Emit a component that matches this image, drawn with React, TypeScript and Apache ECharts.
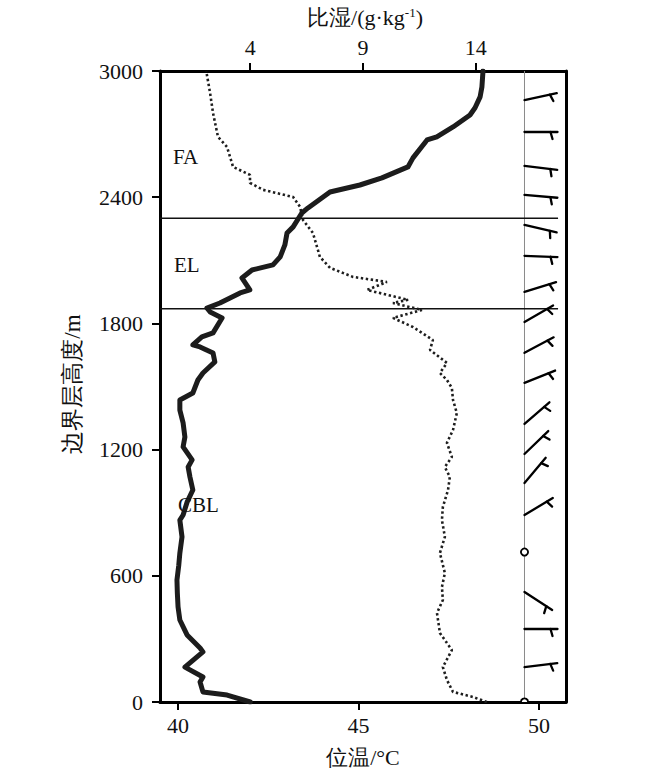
import React, { useEffect, useRef } from 'react';
import * as echarts from 'echarts';

// Potential temperature profile (°C) vs height (m)
const thetaHeights = [0, 33, 48, 95, 119, 166, 238, 257, 319, 390, 452, 520, 580, 650, 708, 785, 865, 889, 950, 1008, 1070, 1117, 1151, 1213, 1260, 1327, 1388, 1436, 1469, 1531, 1564, 1617, 1659, 1688, 1698, 1736, 1755, 1826, 1854, 1873, 1897, 1945, 1959, 2016, 2054, 2078, 2116, 2173, 2230, 2259, 2325, 2349, 2401, 2425, 2458, 2492, 2544, 2587, 2672, 2687, 2734, 2791, 2825, 2877, 2924, 3000];
const thetaValues = [42.0, 41.36, 40.69, 40.61, 40.69, 40.19, 40.69, 40.61, 40.25, 40.05, 40.0, 39.98, 39.97, 40.02, 40.05, 40.11, 40.05, 40.14, 40.25, 40.41, 40.33, 40.28, 40.39, 40.14, 40.19, 40.14, 40.05, 40.05, 40.41, 40.55, 40.69, 41.02, 40.97, 40.61, 40.41, 40.66, 40.97, 41.22, 40.89, 40.8, 41.16, 41.72, 41.99, 41.77, 42.05, 42.63, 42.83, 42.96, 43.02, 43.19, 43.43, 43.6, 44.02, 44.21, 45.04, 45.65, 46.37, 46.51, 46.9, 47.17, 47.62, 48.09, 48.23, 48.37, 48.42, 48.45];

// Specific humidity profile (g/kg) vs height (m)
const qHeights = [0, 24, 48, 105, 166, 247, 328, 423, 485, 547, 613, 708, 785, 865, 927, 1008, 1070, 1117, 1165, 1232, 1293, 1374, 1436, 1493, 1531, 1564, 1612, 1674, 1721, 1783, 1826, 1864, 1897, 1912, 1959, 1997, 2021, 2064, 2116, 2230, 2292, 2354, 2401, 2435, 2468, 2506, 2544, 2639, 2687, 2801, 2896, 3000];
const qValues = [14.49, 13.87, 12.99, 12.72, 12.54, 12.94, 12.41, 12.28, 12.54, 12.5, 12.63, 12.41, 12.63, 12.5, 12.54, 12.77, 12.85, 12.63, 12.94, 12.72, 12.99, 13.16, 12.99, 12.94, 12.72, 12.41, 12.72, 11.97, 12.1, 11.21, 10.33, 11.61, 10.33, 11.0, 9.18, 10.06, 8.56, 7.54, 7.09, 6.78, 6.34, 6.21, 5.9, 4.57, 3.99, 3.99, 3.24, 2.97, 2.57, 2.35, 2.22, 2.05];

// Layer boundaries (m) and layer names
const boundaryHeights = [1870, 2300];
const layerNames = ['FA', 'EL', 'CBL'];

// Wind profile: height (m), direction (deg, from), speed (m/s; 0 = calm)
const windHeights = [0, 166, 347, 523, 713, 889, 1041, 1179, 1322, 1517, 1660, 1807, 1950, 2121, 2268, 2411, 2549, 2710, 2862];
const windDirections = [0, 83, 90, 123, 0, 59, 40, 46, 49, 68, 62, 60, 73, 92, 103, 95, 97, 90, 78];
const windSpeeds = [0, 4, 4, 4, 0, 4, 4, 4, 4, 4, 4, 4, 4, 4, 4, 4, 4, 4, 4];

// Axis ticks
const thetaTicks = [40, 45, 50];
const qTicks = [4, 9, 14];
const heightTickInterval = 600;

const SERIF = 'Times New Roman, Liberation Serif, serif';

export default function App() {
  const ref = useRef<HTMLDivElement>(null);
  useEffect(() => {
    if (!ref.current) return;
    const chart = echarts.init(ref.current, undefined, { renderer: 'svg' });
    const windX = 49.6;
    const lineEnd = 50.53;

    const thetaData = thetaHeights.map((h, i) => [thetaValues[i], h]);
    const qData = qHeights.map((h, i) => [qValues[i], h]);
    const windData = windHeights.map((h, i) => [windX, h, windDirections[i], windSpeeds[i]]);

    const boundarySeries = boundaryHeights.map((h) => ({
      type: 'line',
      xAxisIndex: 0,
      yAxisIndex: 0,
      data: [[39.5, h], [lineEnd, h]],
      showSymbol: false,
      silent: true,
      lineStyle: { color: '#111', width: 1.4 },
      z: 3,
    }));

    const axisLabelStyle = {
      fontFamily: SERIF,
      fontSize: 22,
      color: '#111',
      formatter: (v: number) => String(v),
    };

    chart.setOption({
      animation: false,
      backgroundColor: '#fff',
      textStyle: { fontFamily: SERIF },
      grid: { left: 160, right: 84, top: 71, bottom: 73, containLabel: false },
      xAxis: [
        {
          type: 'value',
          position: 'bottom',
          min: 39.5,
          max: 50.75,
          axisLine: { show: true, onZero: false, lineStyle: { color: '#000', width: 3 } },
          axisTick: { show: true, length: 8, lineStyle: { color: '#000', width: 2 }, customValues: thetaTicks },
          axisLabel: { ...axisLabelStyle, margin: 12, customValues: thetaTicks },
          splitLine: { show: false },
        },
        {
          type: 'value',
          position: 'top',
          min: 0,
          max: 18,
          axisLine: { show: true, onZero: false, lineStyle: { color: '#000', width: 3 } },
          axisTick: { show: true, length: 8, lineStyle: { color: '#000', width: 2 }, customValues: qTicks },
          axisLabel: { ...axisLabelStyle, margin: 13, customValues: qTicks },
          splitLine: { show: false },
        },
      ],
      yAxis: [
        {
          type: 'value',
          position: 'left',
          min: 0,
          max: 3000,
          interval: heightTickInterval,
          axisLine: { show: true, onZero: false, lineStyle: { color: '#000', width: 3 } },
          axisTick: { show: true, length: 8, lineStyle: { color: '#000', width: 2 } },
          axisLabel: { ...axisLabelStyle, margin: 17 },
          splitLine: { show: false },
        },
        {
          type: 'value',
          position: 'right',
          min: 0,
          max: 3000,
          axisLine: { show: true, onZero: false, lineStyle: { color: '#000', width: 3 } },
          axisTick: { show: false },
          axisLabel: { show: false },
          splitLine: { show: false },
        },
      ],
      series: [
        {
          type: 'line',
          xAxisIndex: 0,
          yAxisIndex: 0,
          data: [[windX, 0], [windX, 3000]],
          showSymbol: false,
          silent: true,
          lineStyle: { color: '#8a8a8a', width: 1 },
          z: 1,
        },
        ...boundarySeries,
        {
          type: 'line',
          name: 'q',
          xAxisIndex: 1,
          yAxisIndex: 0,
          data: qData,
          showSymbol: false,
          lineStyle: { color: '#1e1e1e', width: 2.6, type: [2.4, 2.6] },
          z: 4,
        },
        {
          type: 'line',
          name: 'theta',
          xAxisIndex: 0,
          yAxisIndex: 0,
          data: thetaData,
          showSymbol: false,
          lineStyle: { color: '#1c1c1c', width: 5, join: 'round', cap: 'round' },
          z: 5,
        },
        {
          type: 'custom',
          xAxisIndex: 0,
          yAxisIndex: 0,
          data: windData,
          clip: true,
          z: 6,
          renderItem: (params: any, api: any) => {
            const h = api.value(1);
            const dir = api.value(2);
            const spd = api.value(3);
            const p = api.coord([api.value(0), h]);
            const bx = p[0];
            const by = p[1];
            const cs = params.coordSys;
            if (!spd) {
              return {
                type: 'circle',
                shape: { cx: bx, cy: by, r: 3.6 },
                style: { fill: '#fff', stroke: '#000', lineWidth: 1.8 },
                clipPath: { type: 'rect', shape: { x: cs.x, y: cs.y, width: cs.width, height: cs.height } },
              };
            }
            const a = ((90 - dir) * Math.PI) / 180;
            const dx = Math.cos(a);
            const dy = -Math.sin(a);
            const L = 33;
            const px = -dy;
            const py = dx;
            const fx0 = bx + dx * 26;
            const fy0 = by + dy * 26;
            const fx1 = fx0 + px * 7 + dx * 2;
            const fy1 = fy0 + py * 7 + dy * 2;
            return {
              type: 'group',
              children: [
                {
                  type: 'line',
                  shape: { x1: bx, y1: by, x2: bx + dx * L, y2: by + dy * L },
                  style: { stroke: '#000', lineWidth: 2.3, lineCap: 'round' },
                },
                {
                  type: 'line',
                  shape: { x1: fx0, y1: fy0, x2: fx1, y2: fy1 },
                  style: { stroke: '#000', lineWidth: 2.3, lineCap: 'round' },
                },
              ],
            };
          },
        },
      ],
      graphic: [
        {
          type: 'text',
          x: 365,
          y: 17,
          z: 10,
          style: {
            text: '比湿/(g·kg{sup|-1})',
            fontFamily: SERIF,
            fontSize: 22,
            fill: '#111',
            align: 'center',
            verticalAlign: 'middle',
            rich: {
              sup: { fontFamily: SERIF, fontSize: 13, verticalAlign: 'top', fill: '#111' },
            },
          },
        },
        {
          type: 'text',
          x: 363,
          y: 757,
          z: 10,
          style: { text: '位温/°C', fontFamily: SERIF, fontSize: 22, fill: '#111', align: 'center', verticalAlign: 'middle' },
        },
        {
          type: 'text',
          x: 72,
          y: 384,
          rotation: Math.PI / 2,
          z: 10,
          style: { text: '边界层高度/m', fontFamily: SERIF, fontSize: 23, fill: '#111', align: 'center', verticalAlign: 'middle' },
        },
        {
          type: 'text',
          x: 173,
          y: 157,
          z: 10,
          style: { text: layerNames[0], fontFamily: SERIF, fontSize: 21, fill: '#111', align: 'left', verticalAlign: 'middle' },
        },
        {
          type: 'text',
          x: 174,
          y: 265,
          z: 10,
          style: { text: layerNames[1], fontFamily: SERIF, fontSize: 21, fill: '#111', align: 'left', verticalAlign: 'middle' },
        },
        {
          type: 'text',
          x: 178,
          y: 505,
          z: 10,
          style: { text: layerNames[2], fontFamily: SERIF, fontSize: 21, fill: '#111', align: 'left', verticalAlign: 'middle' },
        },
      ],
    });
    return () => chart.dispose();
  }, []);
  return (
    <div
      ref={ref}
      style={{ position: 'fixed', left: 0, top: 0, width: 650, height: 775, background: '#fff' }}
    />
  );
}
